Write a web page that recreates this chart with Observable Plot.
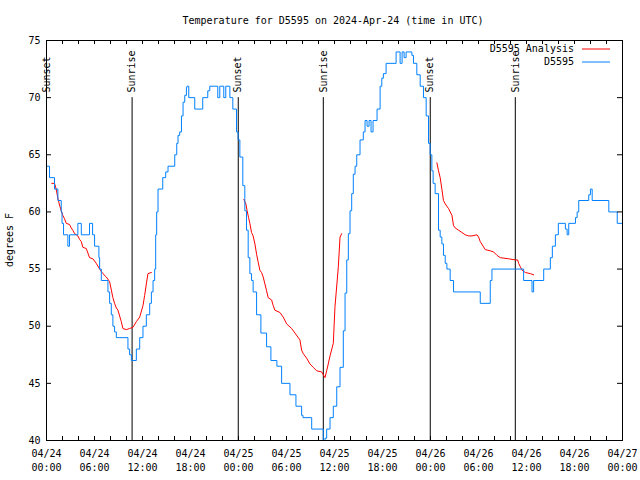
<!DOCTYPE html>
<html><head><meta charset="utf-8">
<script src="https://cdn.jsdelivr.net/npm/d3@7"></script>
<script src="https://cdn.jsdelivr.net/npm/@observablehq/plot@0.6"></script>
<style>
body{margin:0;background:#fff;}
#title{width:640px;height:30px;box-sizing:border-box;padding-left:26px;padding-top:15px;line-height:10px;text-align:center;font:10px "DejaVu Sans Mono",monospace;color:#000;}
</style></head><body>
<div id="title">Temperature for D5595 on 2024-Apr-24 (time in UTC)</div>
<div id="chart"></div>
<script>
// ---- data (hours after 2024-04-24 00:00 UTC) ----
const seriesNames = ["D5595 Analysis", "D5595"];
const seriesColors = ["#ff0000", "#0080ff"];

const blueHours = [0.0,0.38,1.00,1.42,1.84,1.94,2.13,2.67,2.88,3.92,4.35,5.38,5.76,6.01,6.55,6.64,6.85,7.68,7.89,8.10,8.30,8.51,8.73,10.18,10.39,10.61,10.81,11.23,11.65,12.06,12.48,12.90,13.11,13.32,13.52,13.65,13.77,13.94,14.53,14.90,15.19,16.03,16.28,16.44,16.65,16.87,17.07,17.28,17.49,17.57,17.78,18.53,19.53,20.16,20.41,21.41,21.66,22.16,22.41,22.92,23.29,23.75,23.95,24.17,24.54,24.79,25.00,25.21,25.42,25.63,25.83,26.26,26.80,27.51,28.05,28.80,29.39,30.43,31.18,31.89,32.06,33.15,34.60,34.81,35.02,35.44,35.85,36.28,36.69,37.10,37.32,37.53,37.73,37.94,38.15,38.35,38.57,38.78,39.19,39.60,39.82,40.07,40.32,40.57,40.82,41.32,41.70,41.91,42.11,42.45,43.70,44.20,44.45,44.70,44.95,45.67,45.87,46.29,46.71,47.12,47.46,47.75,47.96,48.17,48.33,48.58,49.00,49.21,49.42,49.62,49.84,50.05,50.46,50.88,54.22,55.47,55.68,59.64,60.69,60.89,62.15,62.98,63.23,63.61,63.98,64.86,65.08,65.28,66.12,66.33,66.53,67.78,67.99,68.21,70.29,71.34,72.00];
const blueTemps = [64,63,62,61,60,59,58,57,58,59,58,59,58,57,56,55,54,53,52,51,50,49.5,49,48,47.5,47,47,48,49,50,51,52,53,54,55,58,60,62,63,63.5,64,65,66,66.7,67,68.4,69.6,70.2,70.9,71,70,69,70,70.6,71,70,71,70,71,70,69,67,66.3,64.8,62.3,60.1,58.4,56,54.6,54,53,51,49.4,48.2,47,46.5,45,44,43,42.2,42,41,40,40.2,41,42,43,44.7,46.4,49.6,52.9,55.8,58.1,60.1,61.6,63.3,64,65,66.3,67,68,67.5,68,67,68,69,71,71.7,72.1,73,74,73,74,73.5,74,73.7,73,72,71,70,68.4,66,65,63.6,62.5,61.6,58.4,57.8,57.2,56.2,55.5,55,54,53,52,54,55,54,53,54,55,56,57,58,59,58.5,58,59,59.5,60,61,61.5,62,61,60,59,59];

const redHours = [0.66,1.00,1.21,1.42,1.63,1.84,2.04,2.25,2.47,2.88,3.09,3.29,3.51,3.92,4.13,4.35,4.55,4.97,5.38,5.80,6.22,6.64,7.05,7.48,7.89,8.30,8.51,8.73,8.93,9.14,9.35,9.55,9.98,10.39,10.81,11.23,11.65,12.06,12.27,12.48,12.68,13.11,
  18.0,
  24.67,24.92,25.08,25.26,25.42,25.63,25.83,26.05,26.26,26.46,26.67,26.88,27.09,27.30,27.51,27.71,28.14,28.34,28.55,29.18,29.59,30.02,30.64,31.06,31.68,31.89,32.10,32.52,32.93,33.35,33.77,34.40,34.81,35.02,35.22,35.44,35.85,36.06,36.48,36.69,36.90,
  42.0,
  48.80,49.00,49.21,49.42,49.62,49.84,50.25,50.68,50.88,51.09,51.50,51.93,52.34,52.76,53.18,53.81,54.01,54.22,54.85,55.47,55.89,56.31,56.72,57.76,58.60,58.89,59.02,59.23,59.45,59.86,60.48,60.89];
const redTemps = [62.5,62.5,62,61.2,60.6,60.1,59.7,59.4,59,58.9,58.6,58.4,58.1,57.9,57.6,57.4,56.9,56.8,56.0,55.9,55.5,55,54.6,54.3,53.9,52.5,52,51.6,51.4,50.9,50.4,49.8,49.7,49.8,49.9,50.4,50.8,51.8,52.7,53.7,54.6,54.7,
  null,
  61.1,60.7,60.1,59.5,59,58.2,57.9,57.2,56.3,55.6,54.9,54.7,54.3,53.7,53.1,52.5,52.3,51.8,51.4,51.2,50.8,50.2,49.8,49.4,48.8,47.9,47.6,47.2,46.7,46.4,46.1,46.0,45.5,46.1,46.7,47.4,48.5,51.7,55.2,57.8,58.1,
  null,
  64.3,63.6,63,62,61,60.7,60.3,59.7,58.8,58.6,58.4,58.2,58.0,57.9,57.9,58.0,57.8,57.4,56.7,56.6,56.5,56.2,56.0,55.9,55.8,55.8,55.5,55.2,54.9,54.7,54.6,54.5];

const sunHours = [0.0, 10.7, 23.97, 34.6, 47.97, 58.6];
const sunLabels = ["Sunset", "Sunrise", "Sunset", "Sunrise", "Sunset", "Sunrise"];

const xLabelHours = [0,6,12,18,24,30,36,42,48,54,60,66,72];
const xTickHours = d3.range(0, 73, 2);
const yTickValues = [40,45,50,55,60,65,70,75];
const yLabel = "degrees F";

// ---- build ----
const t0 = Date.UTC(2024, 3, 24);
const toDate = h => new Date(t0 + h * 3600e3);
const blue = blueHours.map((h, i) => ({t: toDate(h), v: blueTemps[i]}));
const red = redHours.map((h, i) => ({t: toDate(h), v: redTemps[i]}));
const sun = sunHours.map((h, i) => ({t: toDate(h), label: sunLabels[i]}));
const xLabelTicks = xLabelHours.map(toDate);
const xTicks = xTickHours.map(toDate);

const W = 640, H = 450, mT = 10, mB = 40, mL = 46, mR = 18;
const fh = H - mT - mB, fw = W - mL - mR, tk = 4;

const plot = Plot.plot({
  width: W, height: H, marginTop: mT, marginBottom: mB, marginLeft: mL, marginRight: mR,
  style: {fontFamily: '"DejaVu Sans Mono", monospace', fontSize: "10px", background: "white", color: "black", overflow: "visible"},
  x: {type: "utc", domain: [toDate(0), toDate(72)]},
  y: {domain: [40, 75]},
  marks: [
    Plot.ruleX(sun, {x: "t", y1: 40, y2: 70, stroke: "black", strokeWidth: 1}),
    Plot.text(sun, {x: "t", text: "label", rotate: -90, textAnchor: "start", lineAnchor: "middle", frameAnchor: "top", dy: 52, fill: "black"}),
    Plot.line(red, {x: "t", y: "v", stroke: seriesColors[0], strokeWidth: 1}),
    Plot.line(blue, {x: "t", y: "v", curve: "step-after", stroke: seriesColors[1], strokeWidth: 1}),
    Plot.ruleX(xTicks, {insetTop: fh - tk, stroke: "black"}),
    Plot.ruleX(xTicks, {insetBottom: fh - tk, stroke: "black"}),
    Plot.ruleY(yTickValues, {insetRight: fw - 5, stroke: "black"}),
    Plot.ruleY(yTickValues, {insetLeft: fw - 5, stroke: "black"}),
    Plot.axisX({ticks: xLabelTicks, tickSize: 0, tickPadding: 6, tickFormat: d3.utcFormat("%m/%d\n%H:%M"), label: null, lineHeight: 1.45}),
    Plot.axisY({ticks: yTickValues, tickSize: 0, tickPadding: 6, label: null}),
    Plot.frame({stroke: "black"})
  ]
});

const svg = d3.select(plot);
svg.append("text")
  .attr("transform", `translate(10,${mT + fh / 2}) rotate(-90)`)
  .attr("text-anchor", "middle").attr("dominant-baseline", "middle")
  .attr("fill", "black").text(yLabel);

seriesNames.forEach((name, i) => {
  const y = 19 + i * 13;
  svg.append("text").attr("x", 574).attr("y", y).attr("text-anchor", "end")
    .attr("dominant-baseline", "middle").attr("fill", "black").text(name);
  svg.append("line").attr("x1", 582).attr("x2", 610).attr("y1", y).attr("y2", y)
    .attr("stroke", seriesColors[i]).attr("stroke-width", 1);
});

document.getElementById("chart").appendChild(plot);
</script>
</body></html>
